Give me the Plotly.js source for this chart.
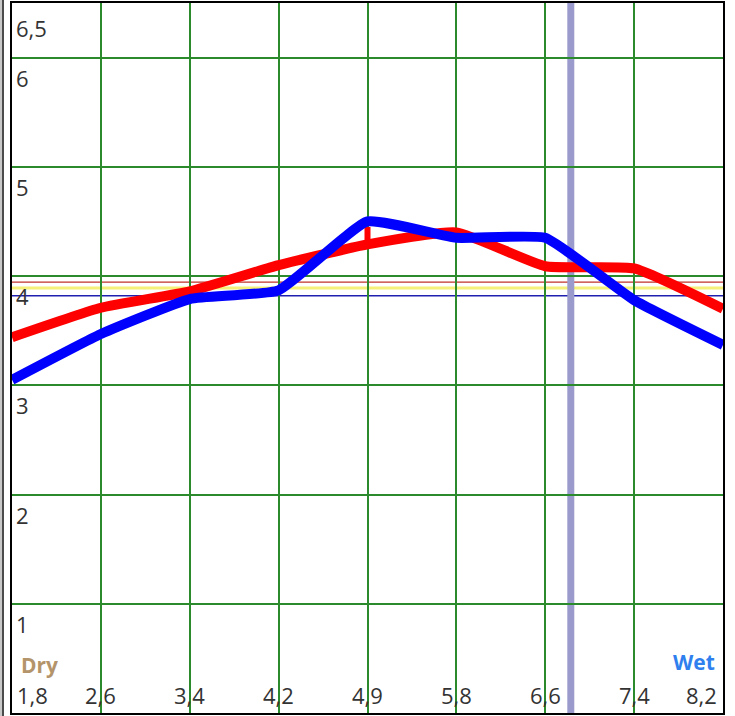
<!DOCTYPE html>
<html>
<head>
<meta charset="utf-8">
<script src="https://cdn.plot.ly/plotly-3.0.1.min.js"></script>
<style>html,body{margin:0;padding:0;background:#fff;}#chart{width:735px;height:716px;}</style>
</head>
<body>
<div id="chart"></div>
<script>
// ---- data ----
const xPositions = [1.8, 2.6, 3.4, 4.2, 5.0, 5.8, 6.6, 7.4, 8.2];
const xTickText  = ['1,8', '2,6', '3,4', '4,2', '4,9', '5,8', '6,6', '7,4', '8,2'];
const yTickVals  = [1, 2, 3, 4, 5, 6, 6.5];
const yTickText  = ['1', '2', '3', '4', '5', '6', '6,5'];
const redValues  = [3.44, 3.71, 3.86, 4.10, 4.29, 4.40, 4.09, 4.07, 3.70];
const blueValues = [3.05, 3.47, 3.79, 3.87, 4.50, 4.35, 4.35, 3.78, 3.37];
const redSpikeX  = [5.0, 5.0];
const redSpikeY  = [4.29, 4.45];
const refLevels  = [3.945, 3.89, 3.82];
const refColors  = ['#c0302a', '#f4f07a', '#2020b0'];
const refWidths  = [1.3, 3, 1.3];
const dividerX   = 6.83;
const xRange = [1.8, 8.2];
const yRange = [0, 6.5];

const labelFont = {family: 'Open Sans, sans-serif', size: 22, color: '#333333'};

const traces = [
  {x: xPositions, y: redValues, mode: 'lines', line: {color: '#ff0000', width: 10, shape: 'spline', smoothing: 0.45}, hoverinfo: 'skip'},
  {x: redSpikeX, y: redSpikeY, mode: 'lines', line: {color: '#ff0000', width: 6}, hoverinfo: 'skip'},
  {x: xPositions, y: blueValues, mode: 'lines', line: {color: '#0000ff', width: 10, shape: 'spline', smoothing: 0.4}, hoverinfo: 'skip'}
];

const shapes = [];
refLevels.forEach((v, i) => {
  shapes.push({type: 'line', xref: 'paper', yref: 'y', x0: 0, x1: 1, y0: v, y1: v,
    line: {color: refColors[i], width: refWidths[i]}, layer: 'between'});
});
shapes.push({type: 'line', xref: 'x', yref: 'paper', x0: dividerX, x1: dividerX, y0: 0, y1: 1,
  line: {color: '#9a9acc', width: 7}, layer: 'between'});
// neighbouring window edge at the far left
shapes.push({type: 'rect', xref: 'paper', yref: 'paper', xsizemode: 'pixel', xanchor: 0,
  x0: -12, x1: -8, y0: -0.01, y1: 1.01, fillcolor: '#c8c8c8', line: {width: 0}, layer: 'above'});
shapes.push({type: 'line', xref: 'paper', yref: 'paper', xsizemode: 'pixel', xanchor: 0,
  x0: -9, x1: -9, y0: -0.01, y1: 1.01, line: {color: '#222', width: 1.5}, layer: 'above'});

const annotations = [];
xPositions.forEach((v, i) => {
  const a = {x: v, xref: 'x', y: 0, yref: 'paper', yanchor: 'bottom', yshift: 1,
    text: xTickText[i], showarrow: false, font: labelFont, xanchor: 'center'};
  if (i === 0) { a.xanchor = 'left'; a.xshift = 3; }
  if (i === xPositions.length - 1) { a.xanchor = 'right'; a.xshift = -4; }
  annotations.push(a);
});
yTickVals.forEach((v, i) => {
  annotations.push({x: 0, xref: 'paper', y: v, yref: 'y', yanchor: 'top', xanchor: 'left',
    xshift: 2, yshift: (v === 6.5 ? -8 : -3), text: yTickText[i], showarrow: false, font: labelFont});
});
annotations.push({x: 0, xref: 'paper', y: 0.068, yref: 'paper', xanchor: 'left', yanchor: 'middle',
  xshift: 7, text: '<b>Dry</b>', showarrow: false, font: {family: 'Open Sans, sans-serif', size: 21, color: '#b4946a'}});
annotations.push({x: 1, xref: 'paper', y: 0.072, yref: 'paper', xanchor: 'right', yanchor: 'middle',
  xshift: -6, text: '<b>Wet</b>', showarrow: false, font: {family: 'Open Sans, sans-serif', size: 21, color: '#2f80ee'}});

const layout = {
  width: 735, height: 716,
  margin: {l: 12, r: 12, t: 3, b: 3, pad: 0},
  paper_bgcolor: '#ffffff', plot_bgcolor: '#ffffff',
  showlegend: false,
  xaxis: {range: xRange, tickvals: xPositions.slice(1, -1), showticklabels: false, ticks: '',
    showgrid: true, gridcolor: '#2b8a2b', gridwidth: 2, zeroline: false,
    showline: true, mirror: true, linecolor: '#000000', linewidth: 2, fixedrange: true},
  yaxis: {range: yRange, tickvals: yTickVals.slice(0, -1), showticklabels: false, ticks: '',
    showgrid: true, gridcolor: '#2b8a2b', gridwidth: 2, zeroline: false,
    showline: true, mirror: true, linecolor: '#000000', linewidth: 2, fixedrange: true},
  shapes: shapes,
  annotations: annotations
};

Plotly.newPlot('chart', traces, layout, {displayModeBar: false, staticPlot: true});
</script>
</body>
</html>
